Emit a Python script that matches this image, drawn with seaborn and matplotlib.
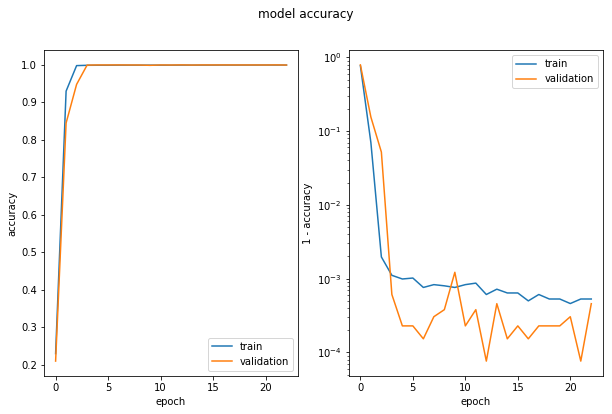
import numpy as np
import pandas as pd
import matplotlib
matplotlib.use("Agg")
import matplotlib.pyplot as plt
import seaborn as sns

epochs = list(range(23))
train_err = [0.77, 0.07, 0.00197, 0.00111, 0.00099, 0.00102, 0.00076, 0.00083, 0.0008,
             0.00076, 0.00083, 0.00087, 0.00061, 0.00072, 0.00064, 0.00064, 0.0005,
             0.00061, 0.00053, 0.00053, 0.00046, 0.00053, 0.00053]
val_err = [0.79, 0.155, 0.052, 0.00061, 0.000229, 0.000229, 0.000153, 0.000305, 0.00038,
           0.00122, 0.000229, 0.00038, 0.0000763, 0.000458, 0.000153, 0.000229, 0.000153,
           0.000229, 0.000229, 0.000229, 0.000305, 0.0000763, 0.000458]
train_acc = [1 - v for v in train_err]
val_acc = [1 - v for v in val_err]

df = pd.DataFrame({
    "epoch": epochs * 2,
    "accuracy": train_acc + val_acc,
    "err": train_err + val_err,
    "set": ["train"] * len(epochs) + ["validation"] * len(epochs),
})

fig, axes = plt.subplots(1, 2, figsize=(8.5, 5.75), dpi=72)
fig.subplots_adjust(left=0.072, right=0.985, bottom=0.092, top=0.879, wspace=0.2)
palette = {"train": "#1f77b4", "validation": "#ff7f0e"}

ax = axes[0]
sns.lineplot(data=df, x="epoch", y="accuracy", hue="set", palette=palette, ax=ax)
ax.set_xlabel("epoch")
ax.set_ylabel("accuracy")
ax.legend(loc="lower right")
ax.set_xticks([0, 5, 10, 15, 20])

ax = axes[1]
sns.lineplot(data=df, x="epoch", y="err", hue="set", palette=palette, ax=ax)
ax.set_yscale("log")
ax.set_xlabel("epoch")
ax.set_ylabel("1 - accuracy")
ax.legend(loc="upper right")
ax.set_xticks([0, 5, 10, 15, 20])

fig.suptitle("model accuracy", fontsize=12)
fig.savefig("out.png", dpi=72)
